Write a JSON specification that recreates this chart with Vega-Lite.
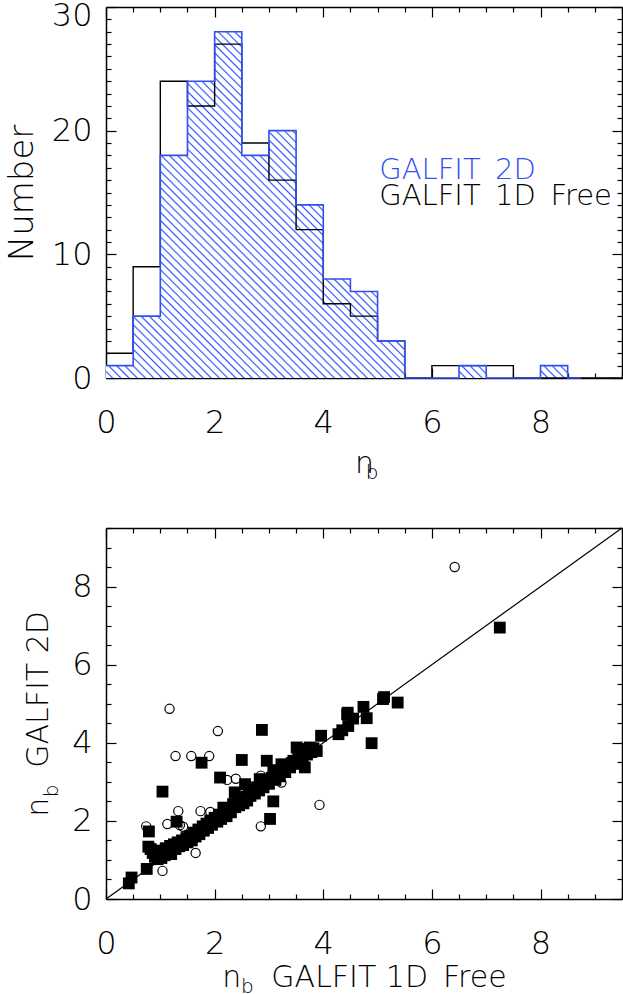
{
"$schema":"https://vega.github.io/schema/vega-lite/v6.json",
"background":"white",
"padding":{"left":5,"top":-1,"right":0,"bottom":0},
"bounds":"flush",
"spacing":150,
"config":{
 "view":{"stroke":null},
 "font":"DejaVu Sans",
 "axis":{"grid":false,"zindex":1,"domainColor":"#000","domainWidth":1.5,"tickColor":"#000","tickWidth":1.2,"labelColor":"#000","titleColor":"#000","labelFont":"DejaVu Sans","titleFont":"DejaVu Sans","labelFontSize":32,"titleFontSize":30,"labelFontWeight":200,"titleFontWeight":200,"labelFlush":false,"labelOverlap":false}
},
"datasets":{
 "h1d":[{"nb":0,"count":2},{"nb":0.5,"count":9},{"nb":1,"count":24},{"nb":1.5,"count":22},{"nb":2,"count":27},{"nb":2.5,"count":19},{"nb":3,"count":16},{"nb":3.5,"count":12},{"nb":4,"count":6},{"nb":4.5,"count":5},{"nb":5,"count":3},{"nb":5.5,"count":0},{"nb":6,"count":1},{"nb":6.5,"count":1},{"nb":7,"count":1},{"nb":7.5,"count":0},{"nb":8,"count":0},{"nb":8.5,"count":0},{"nb":9,"count":0},{"nb":9.5,"count":0}],
 "h2d":[{"nb":0,"count":1},{"nb":0.5,"count":5},{"nb":1,"count":18},{"nb":1.5,"count":24},{"nb":2,"count":28},{"nb":2.5,"count":18},{"nb":3,"count":20},{"nb":3.5,"count":14},{"nb":4,"count":8},{"nb":4.5,"count":7},{"nb":5,"count":3},{"nb":5.5,"count":0},{"nb":6,"count":0},{"nb":6.5,"count":1},{"nb":7,"count":0},{"nb":7.5,"count":0},{"nb":8,"count":1},{"nb":8.5,"count":0},{"nb":8.75,"count":0}],
 "open":[{"n1":6.42,"n2":8.50},{"n1":1.17,"n2":4.87},{"n1":2.06,"n2":4.30},{"n1":1.28,"n2":3.66},{"n1":1.57,"n2":3.66},{"n1":1.90,"n2":3.66},{"n1":2.23,"n2":3.05},{"n1":2.39,"n2":3.08},{"n1":2.85,"n2":3.16},{"n1":3.23,"n2":2.98},{"n1":3.93,"n2":2.41},{"n1":1.33,"n2":2.25},{"n1":1.74,"n2":2.25},{"n1":1.92,"n2":2.23},{"n1":0.74,"n2":1.86},{"n1":1.13,"n2":1.92},{"n1":1.36,"n2":1.89},{"n1":1.42,"n2":1.85},{"n1":1.65,"n2":1.18},{"n1":1.04,"n2":0.72},{"n1":2.85,"n2":1.86}],
 "filled":[{"n1":0.42,"n2":0.40},{"n1":0.47,"n2":0.55},{"n1":0.75,"n2":0.77},{"n1":0.79,"n2":1.73},{"n1":0.78,"n2":1.34},{"n1":0.82,"n2":1.28},{"n1":0.86,"n2":1.18},{"n1":0.90,"n2":1.08},{"n1":0.95,"n2":1.02},{"n1":0.98,"n2":1.24},{"n1":1.02,"n2":1.05},{"n1":1.04,"n2":2.75},{"n1":1.05,"n2":1.20},{"n1":1.08,"n2":1.12},{"n1":1.10,"n2":1.30},{"n1":1.15,"n2":1.22},{"n1":1.18,"n2":1.36},{"n1":1.20,"n2":1.15},{"n1":1.25,"n2":1.40},{"n1":1.28,"n2":1.28},{"n1":1.30,"n2":1.98},{"n1":1.32,"n2":1.45},{"n1":1.35,"n2":1.35},{"n1":1.40,"n2":1.50},{"n1":1.42,"n2":1.38},{"n1":1.48,"n2":1.56},{"n1":1.50,"n2":1.45},{"n1":1.55,"n2":1.62},{"n1":1.58,"n2":1.50},{"n1":1.62,"n2":1.70},{"n1":1.65,"n2":1.60},{"n1":1.70,"n2":1.78},{"n1":1.72,"n2":1.66},{"n1":1.76,"n2":3.49},{"n1":1.78,"n2":1.86},{"n1":1.80,"n2":1.75},{"n1":1.85,"n2":1.93},{"n1":1.88,"n2":1.82},{"n1":1.92,"n2":2.01},{"n1":1.95,"n2":1.90},{"n1":2.00,"n2":2.08},{"n1":2.05,"n2":1.98},{"n1":2.08,"n2":2.16},{"n1":2.10,"n2":3.11},{"n1":2.12,"n2":2.05},{"n1":2.16,"n2":2.34},{"n1":2.18,"n2":2.20},{"n1":2.22,"n2":2.12},{"n1":2.26,"n2":2.30},{"n1":2.30,"n2":2.22},{"n1":2.34,"n2":2.43},{"n1":2.37,"n2":2.73},{"n1":2.38,"n2":2.35},{"n1":2.42,"n2":2.50},{"n1":2.45,"n2":2.40},{"n1":2.50,"n2":3.56},{"n1":2.50,"n2":2.55},{"n1":2.53,"n2":2.45},{"n1":2.56,"n2":2.94},{"n1":2.58,"n2":2.62},{"n1":2.60,"n2":2.52},{"n1":2.63,"n2":2.72},{"n1":2.66,"n2":2.64},{"n1":2.70,"n2":2.78},{"n1":2.74,"n2":2.70},{"n1":2.78,"n2":2.86},{"n1":2.83,"n2":3.07},{"n1":2.82,"n2":2.78},{"n1":2.86,"n2":2.92},{"n1":2.87,"n2":4.33},{"n1":2.90,"n2":2.86},{"n1":2.95,"n2":3.00},{"n1":2.96,"n2":3.54},{"n1":3.00,"n2":2.95},{"n1":3.02,"n2":2.05},{"n1":3.05,"n2":3.10},{"n1":3.08,"n2":2.50},{"n1":3.08,"n2":3.30},{"n1":3.12,"n2":3.05},{"n1":3.16,"n2":3.20},{"n1":3.20,"n2":3.14},{"n1":3.23,"n2":3.45},{"n1":3.26,"n2":3.30},{"n1":3.30,"n2":3.25},{"n1":3.35,"n2":3.40},{"n1":3.39,"n2":3.37},{"n1":3.42,"n2":3.48},{"n1":3.45,"n2":3.54},{"n1":3.50,"n2":3.46},{"n1":3.51,"n2":3.88},{"n1":3.54,"n2":3.84},{"n1":3.58,"n2":3.60},{"n1":3.62,"n2":3.55},{"n1":3.66,"n2":3.37},{"n1":3.70,"n2":3.70},{"n1":3.75,"n2":3.88},{"n1":3.78,"n2":3.76},{"n1":3.82,"n2":3.86},{"n1":3.88,"n2":3.79},{"n1":3.96,"n2":4.18},{"n1":4.28,"n2":4.22},{"n1":4.35,"n2":4.32},{"n1":4.44,"n2":4.73},{"n1":4.46,"n2":4.43},{"n1":4.45,"n2":4.77},{"n1":4.55,"n2":4.62},{"n1":4.74,"n2":4.92},{"n1":4.80,"n2":4.63},{"n1":4.89,"n2":3.99},{"n1":5.10,"n2":5.12},{"n1":5.12,"n2":5.17},{"n1":5.37,"n2":5.03},{"n1":7.25,"n2":6.95}]
},
"vconcat":[
 {
  "width":516,"height":371,
  "resolve":{"axis":{"x":"independent","y":"independent"}},
  "layer":[
   {
    "data":{"name":"h2d"},
    "mark":{"type":"area","interpolate":"step-after","fill":{"gradient":"linear","x1":0,"y1":1,"x2":1.1292,"y2":0.1773,"stops":[{"offset":0,"color":"#fff"},
{"offset":0.006,"color":"#fff"},{"offset":0.008,"color":"#35f"},{"offset":0.01,"color":"#fff"},
{"offset":0.016,"color":"#fff"},{"offset":0.018,"color":"#35f"},{"offset":0.02,"color":"#fff"},
{"offset":0.026,"color":"#fff"},{"offset":0.028,"color":"#35f"},{"offset":0.03,"color":"#fff"},
{"offset":0.036,"color":"#fff"},{"offset":0.038,"color":"#35f"},{"offset":0.04,"color":"#fff"},
{"offset":0.046,"color":"#fff"},{"offset":0.048,"color":"#35f"},{"offset":0.05,"color":"#fff"},
{"offset":0.056,"color":"#fff"},{"offset":0.058,"color":"#35f"},{"offset":0.06,"color":"#fff"},
{"offset":0.066,"color":"#fff"},{"offset":0.068,"color":"#35f"},{"offset":0.07,"color":"#fff"},
{"offset":0.076,"color":"#fff"},{"offset":0.078,"color":"#35f"},{"offset":0.08,"color":"#fff"},
{"offset":0.086,"color":"#fff"},{"offset":0.088,"color":"#35f"},{"offset":0.09,"color":"#fff"},
{"offset":0.096,"color":"#fff"},{"offset":0.098,"color":"#35f"},{"offset":0.1,"color":"#fff"},
{"offset":0.106,"color":"#fff"},{"offset":0.108,"color":"#35f"},{"offset":0.11,"color":"#fff"},
{"offset":0.116,"color":"#fff"},{"offset":0.118,"color":"#35f"},{"offset":0.12,"color":"#fff"},
{"offset":0.126,"color":"#fff"},{"offset":0.128,"color":"#35f"},{"offset":0.13,"color":"#fff"},
{"offset":0.136,"color":"#fff"},{"offset":0.138,"color":"#35f"},{"offset":0.14,"color":"#fff"},
{"offset":0.146,"color":"#fff"},{"offset":0.148,"color":"#35f"},{"offset":0.15,"color":"#fff"},
{"offset":0.156,"color":"#fff"},{"offset":0.158,"color":"#35f"},{"offset":0.16,"color":"#fff"},
{"offset":0.166,"color":"#fff"},{"offset":0.168,"color":"#35f"},{"offset":0.17,"color":"#fff"},
{"offset":0.176,"color":"#fff"},{"offset":0.178,"color":"#35f"},{"offset":0.18,"color":"#fff"},
{"offset":0.186,"color":"#fff"},{"offset":0.188,"color":"#35f"},{"offset":0.19,"color":"#fff"},
{"offset":0.196,"color":"#fff"},{"offset":0.198,"color":"#35f"},{"offset":0.2,"color":"#fff"},
{"offset":0.206,"color":"#fff"},{"offset":0.208,"color":"#35f"},{"offset":0.21,"color":"#fff"},
{"offset":0.216,"color":"#fff"},{"offset":0.218,"color":"#35f"},{"offset":0.22,"color":"#fff"},
{"offset":0.226,"color":"#fff"},{"offset":0.228,"color":"#35f"},{"offset":0.23,"color":"#fff"},
{"offset":0.236,"color":"#fff"},{"offset":0.238,"color":"#35f"},{"offset":0.24,"color":"#fff"},
{"offset":0.246,"color":"#fff"},{"offset":0.248,"color":"#35f"},{"offset":0.25,"color":"#fff"},
{"offset":0.256,"color":"#fff"},{"offset":0.258,"color":"#35f"},{"offset":0.26,"color":"#fff"},
{"offset":0.266,"color":"#fff"},{"offset":0.268,"color":"#35f"},{"offset":0.27,"color":"#fff"},
{"offset":0.276,"color":"#fff"},{"offset":0.278,"color":"#35f"},{"offset":0.28,"color":"#fff"},
{"offset":0.286,"color":"#fff"},{"offset":0.288,"color":"#35f"},{"offset":0.29,"color":"#fff"},
{"offset":0.296,"color":"#fff"},{"offset":0.298,"color":"#35f"},{"offset":0.3,"color":"#fff"},
{"offset":0.306,"color":"#fff"},{"offset":0.308,"color":"#35f"},{"offset":0.31,"color":"#fff"},
{"offset":0.316,"color":"#fff"},{"offset":0.318,"color":"#35f"},{"offset":0.32,"color":"#fff"},
{"offset":0.326,"color":"#fff"},{"offset":0.328,"color":"#35f"},{"offset":0.33,"color":"#fff"},
{"offset":0.336,"color":"#fff"},{"offset":0.338,"color":"#35f"},{"offset":0.34,"color":"#fff"},
{"offset":0.346,"color":"#fff"},{"offset":0.348,"color":"#35f"},{"offset":0.35,"color":"#fff"},
{"offset":0.356,"color":"#fff"},{"offset":0.358,"color":"#35f"},{"offset":0.36,"color":"#fff"},
{"offset":0.366,"color":"#fff"},{"offset":0.368,"color":"#35f"},{"offset":0.37,"color":"#fff"},
{"offset":0.376,"color":"#fff"},{"offset":0.378,"color":"#35f"},{"offset":0.38,"color":"#fff"},
{"offset":0.386,"color":"#fff"},{"offset":0.388,"color":"#35f"},{"offset":0.39,"color":"#fff"},
{"offset":0.396,"color":"#fff"},{"offset":0.398,"color":"#35f"},{"offset":0.4,"color":"#fff"},
{"offset":0.406,"color":"#fff"},{"offset":0.408,"color":"#35f"},{"offset":0.41,"color":"#fff"},
{"offset":0.416,"color":"#fff"},{"offset":0.418,"color":"#35f"},{"offset":0.42,"color":"#fff"},
{"offset":0.426,"color":"#fff"},{"offset":0.428,"color":"#35f"},{"offset":0.43,"color":"#fff"},
{"offset":0.436,"color":"#fff"},{"offset":0.438,"color":"#35f"},{"offset":0.44,"color":"#fff"},
{"offset":0.446,"color":"#fff"},{"offset":0.448,"color":"#35f"},{"offset":0.45,"color":"#fff"},
{"offset":0.456,"color":"#fff"},{"offset":0.458,"color":"#35f"},{"offset":0.46,"color":"#fff"},
{"offset":0.466,"color":"#fff"},{"offset":0.468,"color":"#35f"},{"offset":0.47,"color":"#fff"},
{"offset":0.476,"color":"#fff"},{"offset":0.478,"color":"#35f"},{"offset":0.48,"color":"#fff"},
{"offset":0.486,"color":"#fff"},{"offset":0.488,"color":"#35f"},{"offset":0.49,"color":"#fff"},
{"offset":0.496,"color":"#fff"},{"offset":0.498,"color":"#35f"},{"offset":0.5,"color":"#fff"},
{"offset":0.506,"color":"#fff"},{"offset":0.508,"color":"#35f"},{"offset":0.51,"color":"#fff"},
{"offset":0.516,"color":"#fff"},{"offset":0.518,"color":"#35f"},{"offset":0.52,"color":"#fff"},
{"offset":0.526,"color":"#fff"},{"offset":0.528,"color":"#35f"},{"offset":0.53,"color":"#fff"},
{"offset":0.536,"color":"#fff"},{"offset":0.538,"color":"#35f"},{"offset":0.54,"color":"#fff"},
{"offset":0.546,"color":"#fff"},{"offset":0.548,"color":"#35f"},{"offset":0.55,"color":"#fff"},
{"offset":0.556,"color":"#fff"},{"offset":0.558,"color":"#35f"},{"offset":0.56,"color":"#fff"},
{"offset":0.566,"color":"#fff"},{"offset":0.568,"color":"#35f"},{"offset":0.57,"color":"#fff"},
{"offset":0.576,"color":"#fff"},{"offset":0.578,"color":"#35f"},{"offset":0.58,"color":"#fff"},
{"offset":0.586,"color":"#fff"},{"offset":0.588,"color":"#35f"},{"offset":0.59,"color":"#fff"},
{"offset":0.596,"color":"#fff"},{"offset":0.598,"color":"#35f"},{"offset":0.6,"color":"#fff"},
{"offset":0.606,"color":"#fff"},{"offset":0.608,"color":"#35f"},{"offset":0.61,"color":"#fff"},
{"offset":0.616,"color":"#fff"},{"offset":0.618,"color":"#35f"},{"offset":0.62,"color":"#fff"},
{"offset":0.626,"color":"#fff"},{"offset":0.628,"color":"#35f"},{"offset":0.63,"color":"#fff"},
{"offset":0.636,"color":"#fff"},{"offset":0.638,"color":"#35f"},{"offset":0.64,"color":"#fff"},
{"offset":0.646,"color":"#fff"},{"offset":0.648,"color":"#35f"},{"offset":0.65,"color":"#fff"},
{"offset":0.656,"color":"#fff"},{"offset":0.658,"color":"#35f"},{"offset":0.66,"color":"#fff"},
{"offset":0.666,"color":"#fff"},{"offset":0.668,"color":"#35f"},{"offset":0.67,"color":"#fff"},
{"offset":0.676,"color":"#fff"},{"offset":0.678,"color":"#35f"},{"offset":0.68,"color":"#fff"},
{"offset":0.686,"color":"#fff"},{"offset":0.688,"color":"#35f"},{"offset":0.69,"color":"#fff"},
{"offset":0.696,"color":"#fff"},{"offset":0.698,"color":"#35f"},{"offset":0.7,"color":"#fff"},
{"offset":0.706,"color":"#fff"},{"offset":0.708,"color":"#35f"},{"offset":0.71,"color":"#fff"},
{"offset":0.716,"color":"#fff"},{"offset":0.718,"color":"#35f"},{"offset":0.72,"color":"#fff"},
{"offset":0.726,"color":"#fff"},{"offset":0.728,"color":"#35f"},{"offset":0.73,"color":"#fff"},
{"offset":0.736,"color":"#fff"},{"offset":0.738,"color":"#35f"},{"offset":0.74,"color":"#fff"},
{"offset":0.746,"color":"#fff"},{"offset":0.748,"color":"#35f"},{"offset":0.75,"color":"#fff"},
{"offset":0.756,"color":"#fff"},{"offset":0.758,"color":"#35f"},{"offset":0.76,"color":"#fff"},
{"offset":0.766,"color":"#fff"},{"offset":0.768,"color":"#35f"},{"offset":0.77,"color":"#fff"},
{"offset":0.776,"color":"#fff"},{"offset":0.778,"color":"#35f"},{"offset":0.78,"color":"#fff"},
{"offset":0.786,"color":"#fff"},{"offset":0.788,"color":"#35f"},{"offset":0.79,"color":"#fff"},
{"offset":0.796,"color":"#fff"},{"offset":0.798,"color":"#35f"},{"offset":0.8,"color":"#fff"},
{"offset":0.806,"color":"#fff"},{"offset":0.808,"color":"#35f"},{"offset":0.81,"color":"#fff"},
{"offset":0.816,"color":"#fff"},{"offset":0.818,"color":"#35f"},{"offset":0.82,"color":"#fff"},
{"offset":0.826,"color":"#fff"},{"offset":0.828,"color":"#35f"},{"offset":0.83,"color":"#fff"},
{"offset":0.836,"color":"#fff"},{"offset":0.838,"color":"#35f"},{"offset":0.84,"color":"#fff"},
{"offset":0.846,"color":"#fff"},{"offset":0.848,"color":"#35f"},{"offset":0.85,"color":"#fff"},
{"offset":0.856,"color":"#fff"},{"offset":0.858,"color":"#35f"},{"offset":0.86,"color":"#fff"},
{"offset":0.866,"color":"#fff"},{"offset":0.868,"color":"#35f"},{"offset":0.87,"color":"#fff"},
{"offset":0.876,"color":"#fff"},{"offset":0.878,"color":"#35f"},{"offset":0.88,"color":"#fff"},
{"offset":0.886,"color":"#fff"},{"offset":0.888,"color":"#35f"},{"offset":0.89,"color":"#fff"},
{"offset":0.896,"color":"#fff"},{"offset":0.898,"color":"#35f"},{"offset":0.9,"color":"#fff"},
{"offset":0.906,"color":"#fff"},{"offset":0.908,"color":"#35f"},{"offset":0.91,"color":"#fff"},
{"offset":0.916,"color":"#fff"},{"offset":0.918,"color":"#35f"},{"offset":0.92,"color":"#fff"},
{"offset":0.926,"color":"#fff"},{"offset":0.928,"color":"#35f"},{"offset":0.93,"color":"#fff"},
{"offset":0.936,"color":"#fff"},{"offset":0.938,"color":"#35f"},{"offset":0.94,"color":"#fff"},
{"offset":0.946,"color":"#fff"},{"offset":0.948,"color":"#35f"},{"offset":0.95,"color":"#fff"},
{"offset":0.956,"color":"#fff"},{"offset":0.958,"color":"#35f"},{"offset":0.96,"color":"#fff"},
{"offset":0.966,"color":"#fff"},{"offset":0.968,"color":"#35f"},{"offset":0.97,"color":"#fff"},
{"offset":0.976,"color":"#fff"},{"offset":0.978,"color":"#35f"},{"offset":0.98,"color":"#fff"},
{"offset":0.986,"color":"#fff"},{"offset":0.988,"color":"#35f"},{"offset":0.99,"color":"#fff"},
{"offset":0.996,"color":"#fff"},{"offset":0.998,"color":"#35f"},{"offset":1,"color":"#fff"}]}},
    "encoding":{
     "x":{"field":"nb","type":"quantitative","scale":{"domain":[0,9.5],"nice":false,"zero":false},
      "axis":{"orient":"bottom","values":[0,0.5,1,1.5,2,2.5,3,3.5,4,4.5,5,5.5,6,6.5,7,7.5,8,8.5,9,9.5],"tickSize":{"condition":{"test":"datum.value % 2 === 0","value":-10},"value":-5},"labelExpr":"datum.value % 2 === 0 ? '' + datum.value : ''","labelPadding":39,"title":"n\u2002","titlePadding":5}},
     "y":{"field":"count","type":"quantitative","scale":{"domain":[0,30],"nice":false},
      "axis":{"orient":"left","values":[0,1,2,3,4,5,6,7,8,9,10,11,12,13,14,15,16,17,18,19,20,21,22,23,24,25,26,27,28,29,30],"tickSize":{"condition":{"test":"datum.value % 10 === 0","value":-10},"value":-5},"labelExpr":"datum.value % 10 === 0 ? '' + datum.value : ''","labelOffset":{"condition":{"test":"datum.value === 30","value":8},"value":0},"labelPadding":24,"title":"Number","titleFontSize":34,"titlePadding":12}}
    }
   },
   {
    "data":{"name":"h1d"},
    "mark":{"type":"line","interpolate":"step-after","color":"#000","strokeWidth":1.4},
    "encoding":{
     "x":{"field":"nb","type":"quantitative","axis":{"orient":"top","values":[0,0.5,1,1.5,2,2.5,3,3.5,4,4.5,5,5.5,6,6.5,7,7.5,8,8.5,9,9.5],"tickSize":{"condition":{"test":"datum.value % 2 === 0","value":-10},"value":-5},"labels":false,"title":null}},
     "y":{"field":"count","type":"quantitative","axis":{"orient":"right","values":[0,1,2,3,4,5,6,7,8,9,10,11,12,13,14,15,16,17,18,19,20,21,22,23,24,25,26,27,28,29,30],"tickSize":{"condition":{"test":"datum.value % 10 === 0","value":-10},"value":-5},"labels":false,"title":null}}
    }
   },
   {
    "data":{"name":"h2d"},
    "mark":{"type":"line","interpolate":"step-after","color":"#3050f0","strokeWidth":1.6},
    "encoding":{
     "x":{"field":"nb","type":"quantitative","axis":null},
     "y":{"field":"count","type":"quantitative","axis":null}
    }
   },
   {
    "data":{"values":[{}]},
    "mark":{"type":"text","text":"GALFIT\u20022D","align":"left","baseline":"alphabetic","fontSize":29,"fontWeight":200,"color":"#3050f0"},
    "encoding":{"x":{"datum":5.03,"axis":null},"y":{"datum":16.1,"axis":null}}
   },
   {
    "data":{"values":[{}]},
    "mark":{"type":"text","text":"GALFIT\u20021D\u2002Free","align":"left","baseline":"alphabetic","fontSize":29,"fontWeight":200,"color":"#000"},
    "encoding":{"x":{"datum":5.03,"axis":null},"y":{"datum":14.0,"axis":null}}
   },
   {
    "data":{"values":[{}]},
    "mark":{"type":"text","text":"b","align":"center","baseline":"middle","fontSize":20,"fontWeight":200,"fill":"#000"},
    "encoding":{"x":{"datum":4.9,"axis":null},"y":{"datum":-7.65,"axis":null}}
   }
  ]
 },
 {
  "width":516,"height":371,
  "resolve":{"axis":{"x":"independent","y":"independent"}},
  "layer":[
   {
    "data":{"name":"open"},
    "mark":{"type":"point","shape":"circle","filled":false,"stroke":"#000","strokeWidth":1.2,"size":85,"opacity":1},
    "encoding":{
     "x":{"field":"n1","type":"quantitative","scale":{"domain":[0,9.5],"nice":false,"zero":false},
      "axis":{"orient":"bottom","values":[0,0.5,1,1.5,2,2.5,3,3.5,4,4.5,5,5.5,6,6.5,7,7.5,8,8.5,9,9.5],"tickSize":{"condition":{"test":"datum.value % 2 === 0","value":-10},"value":-5},"labelExpr":"datum.value % 2 === 0 ? '' + datum.value : ''","labelPadding":39,"title":"n\u2002\u2002GALFIT 1D\u2002Free","titlePadding":-2}},
     "y":{"field":"n2","type":"quantitative","scale":{"domain":[0,9.5],"nice":false,"zero":false},
      "axis":{"orient":"left","values":[0,0.5,1,1.5,2,2.5,3,3.5,4,4.5,5,5.5,6,6.5,7,7.5,8,8.5,9,9.5],"tickSize":{"condition":{"test":"datum.value % 2 === 0","value":-10},"value":-5},"labelExpr":"datum.value % 2 === 0 ? '' + datum.value : ''","labelPadding":24,"title":"n\u2002\u2002GALFIT 2D","titlePadding":18}}
    }
   },
   {
    "data":{"values":[{}]},
    "mark":{"type":"rule","color":"#000","strokeWidth":1.2},
    "encoding":{"x":{"datum":0,"axis":null},"y":{"datum":0,"axis":null},"x2":{"datum":9.5},"y2":{"datum":9.5}}
   },
   {
    "data":{"name":"filled"},
    "mark":{"type":"point","shape":"square","filled":true,"color":"#000","size":140,"opacity":1},
    "encoding":{
     "x":{"field":"n1","type":"quantitative","axis":{"orient":"top","values":[0,0.5,1,1.5,2,2.5,3,3.5,4,4.5,5,5.5,6,6.5,7,7.5,8,8.5,9,9.5],"tickSize":{"condition":{"test":"datum.value % 2 === 0","value":-10},"value":-5},"labels":false,"title":null}},
     "y":{"field":"n2","type":"quantitative","axis":{"orient":"right","values":[0,0.5,1,1.5,2,2.5,3,3.5,4,4.5,5,5.5,6,6.5,7,7.5,8,8.5,9,9.5],"tickSize":{"condition":{"test":"datum.value % 2 === 0","value":-10},"value":-5},"labels":false,"title":null}}
    }
   },
   {
    "data":{"values":[{}]},
    "mark":{"type":"text","text":"b","align":"center","baseline":"middle","fontSize":20,"fontWeight":200,"fill":"#000"},
    "encoding":{"x":{"datum":2.6,"axis":null},"y":{"datum":-2.25,"axis":null}}
   },
   {
    "data":{"values":[{}]},
    "mark":{"type":"text","text":"b","align":"center","baseline":"middle","angle":270,"fontSize":20,"fontWeight":200,"fill":"#000"},
    "encoding":{"x":{"datum":-0.99,"axis":null},"y":{"datum":2.77,"axis":null}}
   }
  ]
 }
]
}
